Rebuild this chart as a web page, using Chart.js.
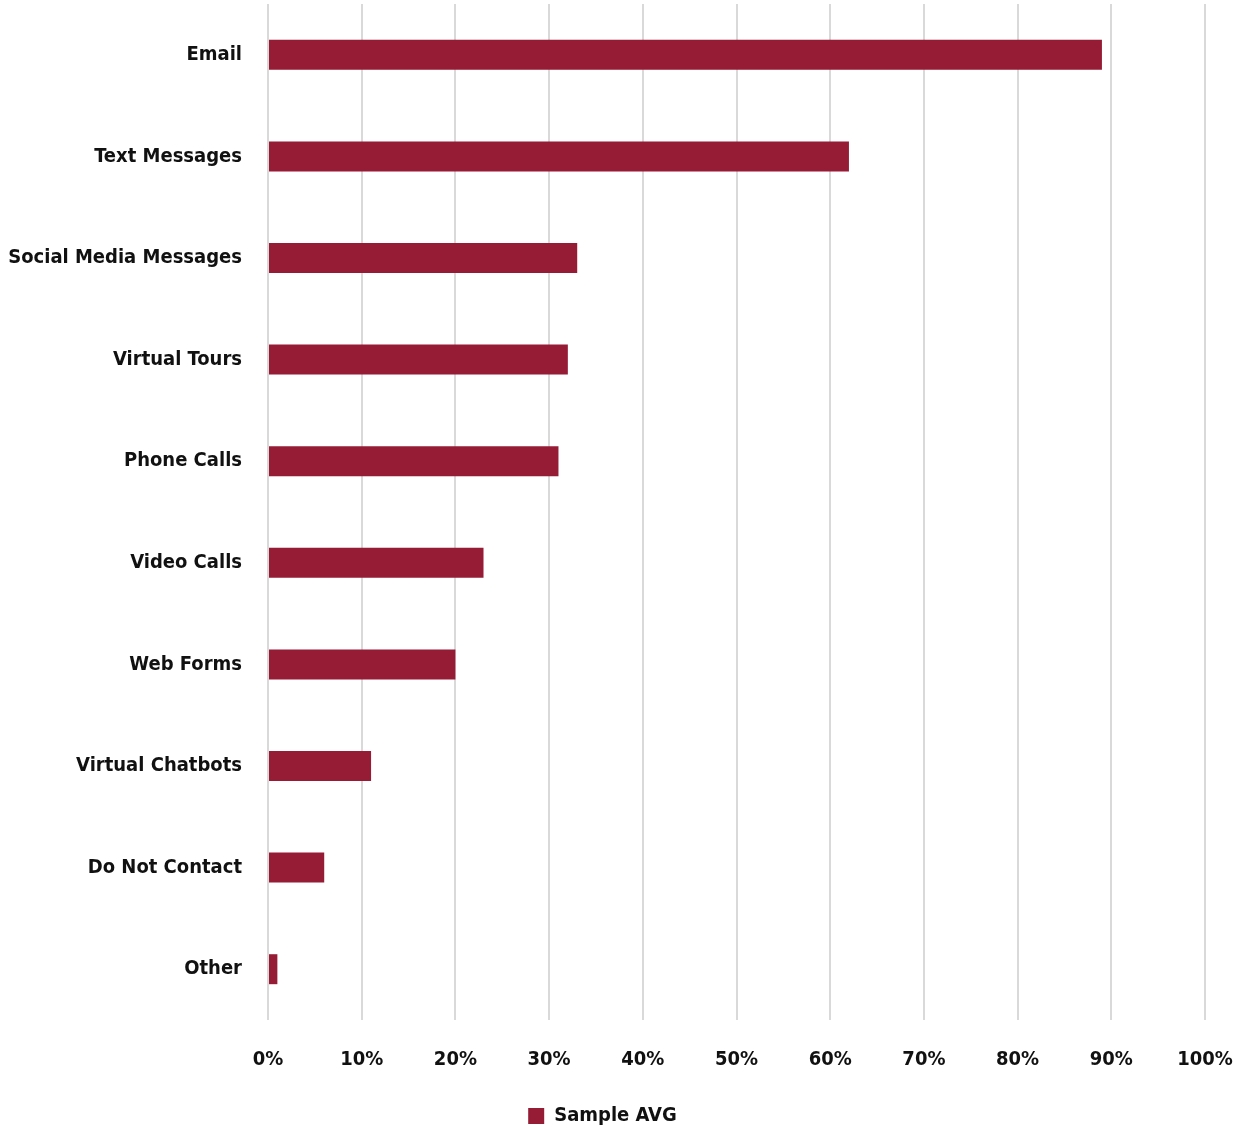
<!DOCTYPE html>
<html lang="en">
<head>
    <meta charset="UTF-8">
    <title>Preferred Contact Methods</title>
    <script src="https://cdn.jsdelivr.net/npm/chart.js"></script>
    <style>
        body {
            margin: 0;
            background: #fff;
        }
        #wrap {
            width: 1233px;
            height: 1131px;
        }
    </style>
</head>
<body>
    <div id="wrap">
        <canvas id="myChart"></canvas>
    </div>

    <script>
        // contact channels, top to bottom
        const categories = [
            'Email', 'Text Messages', 'Social Media Messages', 'Virtual Tours',
            'Phone Calls', 'Video Calls', 'Web Forms', 'Virtual Chatbots',
            'Do Not Contact', 'Other'
        ];
        // share of respondents, percent
        const sampleAvg = [89, 62, 33, 32, 31, 23, 20, 11, 6, 1];
        const seriesName = 'Sample AVG';

        const barColor = '#961b34';
        const fontFamily = '"Liberation Sans Narrow", "DejaVu Sans Condensed", Roboto, sans-serif';
        const labelFont = { family: fontFamily, size: 20, weight: 'bold' };

        const ctx = document.getElementById('myChart').getContext('2d');

        new Chart(ctx, {
            type: 'bar',
            data: {
                labels: categories,
                datasets: [{
                    label: seriesName,
                    data: sampleAvg,
                    backgroundColor: barColor,
                    borderWidth: 0,
                    barPercentage: 0.59,
                    categoryPercentage: 0.5
                }]
            },
            options: {
                indexAxis: 'y',
                responsive: true,
                maintainAspectRatio: false,
                animation: false,
                layout: {
                    padding: { top: 4, right: 28, left: 0, bottom: -5 }
                },
                scales: {
                    x: {
                        min: 0,
                        max: 100,
                        ticks: {
                            stepSize: 10,
                            padding: 28,
                            color: '#111',
                            font: labelFont,
                            callback: v => v + '%'
                        },
                        grid: {
                            color: '#d9d9d9',
                            lineWidth: 2,
                            drawTicks: false
                        },
                        border: { display: false },
                        afterFit: axis => {
                            axis.height = 82;
                            axis.paddingLeft = 0;
                            axis.paddingRight = 0;
                        }
                    },
                    y: {
                        ticks: {
                            padding: 26,
                            color: '#111',
                            font: labelFont
                        },
                        grid: { display: false, drawTicks: false },
                        border: { display: false },
                        afterFit: axis => {
                            axis.width = 268;
                            axis.paddingTop = 0;
                            axis.paddingBottom = 0;
                        }
                    }
                },
                plugins: {
                    legend: {
                        position: 'bottom',
                        labels: {
                            boxWidth: 16,
                            boxHeight: 16,
                            padding: 4,
                            color: '#111',
                            font: labelFont
                        }
                    },
                    tooltip: { enabled: false }
                }
            }
        });
    </script>
</body>
</html>
